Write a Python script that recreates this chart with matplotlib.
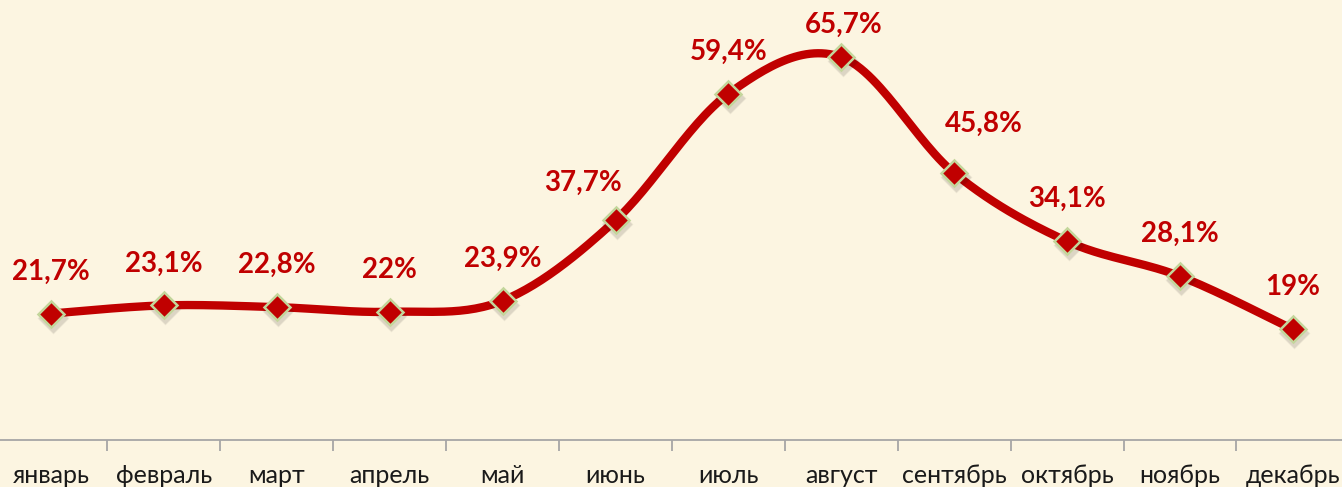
import numpy as np
import matplotlib.pyplot as plt
from matplotlib.transforms import ScaledTranslation

# данные
months = ['январь', 'февраль', 'март', 'апрель', 'май', 'июнь',
          'июль', 'август', 'сентябрь', 'октябрь', 'ноябрь', 'декабрь']
values = [21.7, 23.1, 22.8, 22.0, 23.9, 37.7, 59.4, 65.7, 45.8, 34.1, 28.1, 19.0]
labels = ['21,7%', '23,1%', '22,8%', '22%', '23,9%', '37,7%',
          '59,4%', '65,7%', '45,8%', '34,1%', '28,1%', '19%']

BG = '#FCF5E1'
RED = '#C00000'
FONT = ['Lato', 'DejaVu Sans']


def smooth_curve(xs, ys, steps=30):
    # сглаживание как в Excel (кубический Безье через Catmull-Rom)
    pts = np.column_stack([xs, ys]).astype(float)
    ext = np.vstack([pts[0], pts, pts[-1]])
    out = []
    for i in range(1, len(ext) - 2):
        p0, p1, p2, p3 = ext[i - 1], ext[i], ext[i + 1], ext[i + 2]
        c1 = p1 + (p2 - p0) / 6.0
        c2 = p2 - (p3 - p1) / 6.0
        t = np.linspace(0, 1, steps)[:, None]
        seg = ((1 - t) ** 3) * p1 + 3 * ((1 - t) ** 2) * t * c1 \
            + 3 * (1 - t) * t ** 2 * c2 + t ** 3 * p2
        out.append(seg if i == 1 else seg[1:])
    out = np.vstack(out)
    return out[:, 0], out[:, 1]


def main():
    fig = plt.figure(figsize=(13.42, 4.87), dpi=100, facecolor=BG)
    ax = fig.add_axes([0, 47 / 487, 1, 440 / 487])
    ax.set_facecolor(BG)

    x = np.arange(len(months))
    sx, sy = smooth_curve(x, values)
    ax.plot(sx, sy, color=RED, lw=6, solid_capstyle='round', zorder=3)

    # тень под маркерами
    for k, a in [(3, 0.05), (2, 0.08)]:
        ax.plot(x, values, ls='none', marker='D', ms=13 + k, color='#000000', alpha=a,
                mec='none',
                transform=ax.transData + ScaledTranslation(
                    1.5 / 100, -4 / 100, fig.dpi_scale_trans), zorder=4)
    ax.plot(x, values, ls='none', marker='D', ms=13, markerfacecolor=RED,
            markeredgecolor='#C3D69B', markeredgewidth=1.8, zorder=5)

    # смещения подписей (пиксели)
    offs = {5: (-32, 37), 7: (2, 32), 8: (30, 49)}
    for i, (v, lab) in enumerate(zip(values, labels)):
        dx, dy = offs.get(i, (0, 42))
        ax.annotate(lab, (i, v), xytext=(dx, dy), textcoords='offset pixels',
                    ha='center', va='center', color=RED, fontsize=20,
                    fontweight='bold', family=FONT, zorder=6)

    ax.set_xlim(-0.452, 11.435)
    ax.set_ylim(0, 75.5)

    for s in ['top', 'left', 'right']:
        ax.spines[s].set_visible(False)
    ax.spines['bottom'].set_color('#A6A6A6')
    ax.spines['bottom'].set_linewidth(1.3)
    ax.set_yticks([])

    # засечки между категориями
    ax.set_xticks(x[:-1] + 0.5)
    ax.set_xticklabels([])
    ax.tick_params(axis='x', which='major', length=8, width=1.3, color='#A6A6A6',
                   direction='out')
    ax.set_xticks(x, minor=True)
    ax.set_xticklabels(months, minor=True, fontsize=18, family=FONT, color='#1A1A1A')
    ax.tick_params(axis='x', which='minor', length=0, pad=17)

    fig.savefig('out.png', dpi=100, facecolor=BG)


if __name__ == "__main__":
    main()
